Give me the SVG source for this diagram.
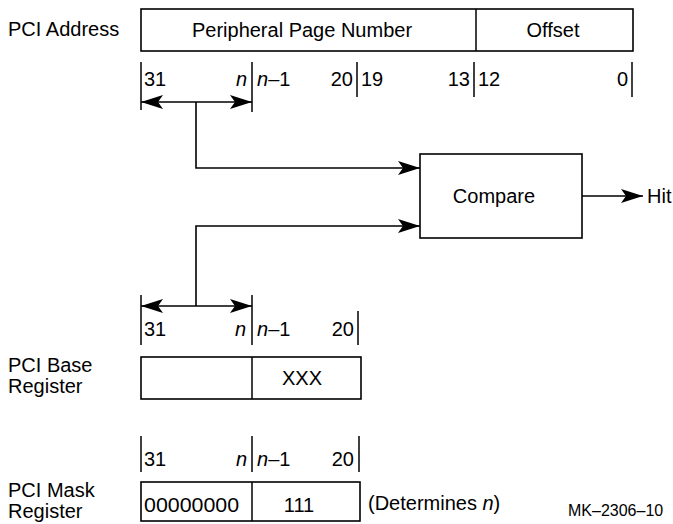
<svg xmlns="http://www.w3.org/2000/svg" width="673" height="524" viewBox="0 0 673 524">
<style>
text{font-family:"Liberation Sans",Arial,sans-serif;font-size:20px;fill:#000}
.box{fill:#fff;stroke:#000;stroke-width:1.6}
.ln{fill:none;stroke:#000;stroke-width:1.6}
.tk{stroke:#000;stroke-width:1.5}
.it{font-style:italic}
.sm{font-size:16px}
</style>
<defs>
<marker id="ah" viewBox="-22 -7 22 14" refX="0" refY="0" markerWidth="22" markerHeight="14" markerUnits="userSpaceOnUse" orient="auto-start-reverse">
<path d="M0,0 L-22,-7 L-17,0 L-22,7 Z" fill="#000"/>
</marker>
</defs>

<g id="labels">
<text x="8" y="36">PCI Address</text>
<text x="8" y="372">PCI Base</text>
<text x="8" y="393">Register</text>
<text x="8" y="497">PCI Mask</text>
<text x="8" y="518">Register</text>
<text x="568" y="516" class="sm">MK–2306–10</text>
</g>

<g id="pci-address">
<rect class="box" x="141" y="9" width="492" height="42"/>
<line class="tk" x1="476" y1="9" x2="476" y2="51"/>
<text x="302" y="37" text-anchor="middle">Peripheral Page Number</text>
<text x="553" y="37" text-anchor="middle">Offset</text>
</g>

<g id="address-bits">
<line class="tk" x1="141" y1="62" x2="141" y2="110"/>
<line class="tk" x1="252" y1="62" x2="252" y2="112"/>
<line class="tk" x1="357" y1="62" x2="357" y2="97"/>
<line class="tk" x1="474" y1="62" x2="474" y2="97"/>
<line class="tk" x1="632" y1="62" x2="632" y2="97"/>
<text x="144" y="86">31</text>
<text x="247" y="86" text-anchor="end" class="it">n</text>
<text x="257" y="86"><tspan class="it">n</tspan>–1</text>
<text x="353" y="86" text-anchor="end">20</text>
<text x="361" y="86">19</text>
<text x="470" y="86" text-anchor="end">13</text>
<text x="478" y="86">12</text>
<text x="628" y="86" text-anchor="end">0</text>
</g>

<g id="compare">
<rect class="box" x="420" y="154" width="162" height="84"/>
<text x="494" y="203" text-anchor="middle">Compare</text>
</g>

<g id="hit">
<text x="647" y="203">Hit</text>
</g>

<g id="base-bits">
<line class="tk" x1="141" y1="295" x2="141" y2="345"/>
<line class="tk" x1="252" y1="295" x2="252" y2="345"/>
<line class="tk" x1="358" y1="311" x2="358" y2="345"/>
<text x="144" y="336">31</text>
<text x="246" y="336" text-anchor="end" class="it">n</text>
<text x="257" y="336"><tspan class="it">n</tspan>–1</text>
<text x="354" y="336" text-anchor="end">20</text>
</g>

<g id="pci-base">
<rect class="box" x="141" y="357" width="220" height="42"/>
<line class="tk" x1="252" y1="357" x2="252" y2="399"/>
<text x="302" y="385" text-anchor="middle">XXX</text>
</g>

<g id="mask-bits">
<line class="tk" x1="141" y1="436" x2="141" y2="472"/>
<line class="tk" x1="252" y1="436" x2="252" y2="472"/>
<line class="tk" x1="359" y1="436" x2="359" y2="472"/>
<text x="144" y="466">31</text>
<text x="247" y="466" text-anchor="end" class="it">n</text>
<text x="257" y="466"><tspan class="it">n</tspan>–1</text>
<text x="354" y="466" text-anchor="end">20</text>
</g>

<g id="pci-mask">
<rect class="box" x="141" y="482" width="219" height="39"/>
<line class="tk" x1="252" y1="482" x2="252" y2="521"/>
<text x="144" y="512" textLength="95" lengthAdjust="spacingAndGlyphs">00000000</text>
<text x="299" y="512" text-anchor="middle">111</text>
<text x="368" y="510">(Determines <tspan class="it">n</tspan>)</text>
</g>

<g id="connectors">
<line class="ln" x1="141" y1="102" x2="252" y2="102" marker-start="url(#ah)" marker-end="url(#ah)"/>
<polyline class="ln" points="196,102 196,168 420,168" marker-end="url(#ah)"/>
<line class="ln" x1="141" y1="306" x2="252" y2="306" marker-start="url(#ah)" marker-end="url(#ah)"/>
<polyline class="ln" points="196,306 196,226 420,226" marker-end="url(#ah)"/>
<line class="ln" x1="582" y1="196" x2="643" y2="196" marker-end="url(#ah)"/>
</g>
</svg>
